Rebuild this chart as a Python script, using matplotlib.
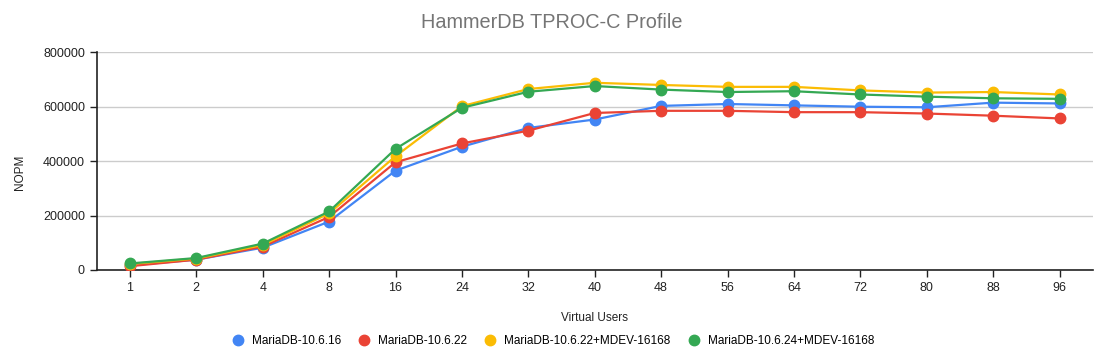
import matplotlib
matplotlib.use("Agg")
import matplotlib.pyplot as plt
from matplotlib.lines import Line2D

plt.rcParams['font.family'] = ['Liberation Sans', 'DejaVu Sans']

users = ["1", "2", "4", "8", "16", "24", "32", "40", "48", "56", "64", "72", "80", "88", "96"]
series_names = ["MariaDB-10.6.16", "MariaDB-10.6.22", "MariaDB-10.6.22+MDEV-16168", "MariaDB-10.6.24+MDEV-16168"]
blue = [17000, 38000, 82000, 178000, 365000, 453000, 522000, 553000, 603000, 610000, 605000, 600000, 598000, 615000, 612000]
red = [14000, 38000, 86000, 195000, 396000, 465000, 512000, 577000, 585000, 585000, 580000, 580000, 575000, 567000, 557000]
yellow = [22000, 42000, 92000, 208000, 418000, 602000, 665000, 688000, 680000, 673000, 673000, 660000, 652000, 654000, 645000]
green = [24000, 44000, 97000, 215000, 445000, 596000, 655000, 676000, 663000, 654000, 657000, 645000, 637000, 631000, 629000]
colors = ["#4285F4", "#EA4335", "#FBBC04", "#34A853"]
yticks = [0, 200000, 400000, 600000, 800000]

W, H = 1103, 357
fig = plt.figure(figsize=(W / 100, H / 100), dpi=100)
ax_l, ax_r, ax_t, ax_b = 96.7, 1092.7, 52.3, 270
ax = fig.add_axes([ax_l / W, 1 - ax_b / H, (ax_r - ax_l) / W, (ax_b - ax_t) / H])

x = list(range(len(users)))
for vals, c in zip([blue, red, yellow, green], colors):
    ax.plot(x, vals, color=c, linewidth=1.6, marker='o', markersize=7.5, zorder=3)

ax.set_xlim(-0.5, len(users) - 0.5)
ax.set_ylim(0, 800000)
ax.set_xticks(x)
ax.set_xticklabels(users)
ax.set_yticks(yticks)
ax.set_yticklabels([str(v) for v in yticks])
ax.tick_params(axis='both', labelsize=9, colors='#222222', length=5, width=1)
ax.yaxis.grid(True, color='#cccccc', linewidth=1)
ax.set_axisbelow(True)
for s in ['top', 'right']:
    ax.spines[s].set_visible(False)
for s in ['left', 'bottom']:
    ax.spines[s].set_color('#222222')
    ax.spines[s].set_linewidth(1.2)

fig.text(0.5, 1 - 22 / H, "HammerDB TPROC-C Profile", ha='center', va='center', fontsize=14.3, color='#757575')
fig.text(20 / W, 1 - 172 / H, "NOPM", ha='center', va='center', rotation=90, fontsize=8.5, color='#222222')
fig.text((ax_l + ax_r) / 2 / W, 1 - 318 / H, "Virtual Users", ha='center', va='center', fontsize=8.5, color='#222222')

handles = [Line2D([], [], linestyle='none', marker='o', markersize=7.5, color=c) for c in colors]
fig.legend(handles, series_names, loc='center', bbox_to_anchor=(553 / W, 1 - 341 / H), ncol=4,
           frameon=False, fontsize=8.5, handlelength=1.0, handletextpad=0.7, columnspacing=1.45)

fig.savefig("out.png", dpi=100)
